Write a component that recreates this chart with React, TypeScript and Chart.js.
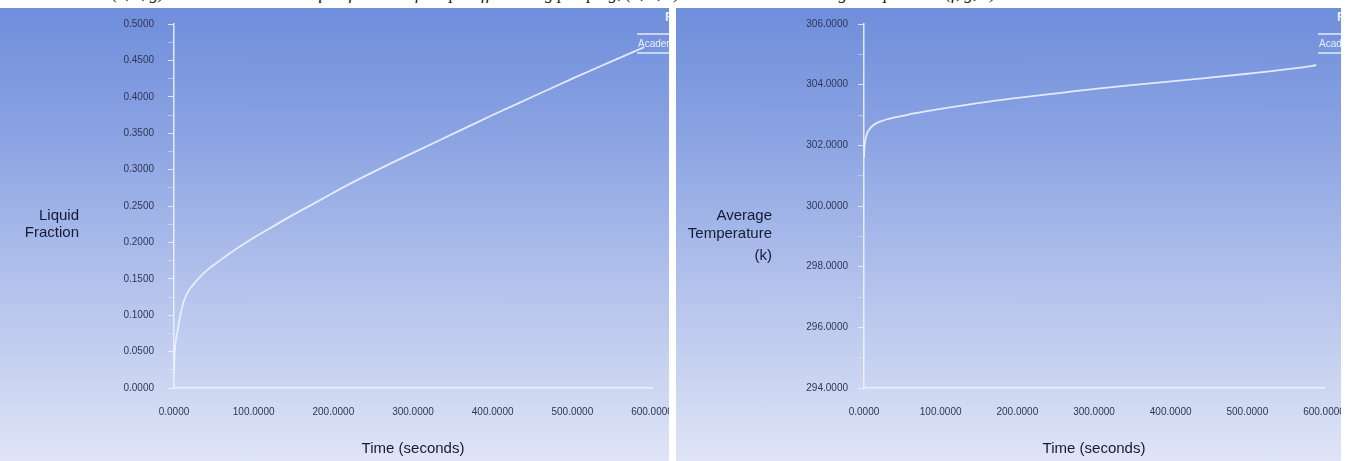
import React, { useEffect, useRef } from "react";
import { Chart, registerables } from "chart.js";

Chart.register(...registerables);

// Melting run: liquid fraction against flow time
const timeLiquid = [0, 0.5, 1, 2, 3, 5, 8, 12, 18, 25, 33, 45, 55, 70, 95, 120, 140, 180, 220, 260, 300, 350, 400, 450, 500, 550, 590];
const liquidFraction = [0.02, 0.04, 0.05, 0.062, 0.07, 0.082, 0.1, 0.118, 0.133, 0.143, 0.153, 0.165, 0.173, 0.185, 0.203, 0.219, 0.232, 0.256, 0.28, 0.302, 0.323, 0.349, 0.375, 0.4, 0.425, 0.449, 0.468];

// Same run: volume-averaged temperature (K) against flow time
const timeTemp = [0, 0.5, 1, 2, 3, 5, 8, 12, 17, 23, 30, 40, 50, 65, 80, 106, 140, 177, 220, 260, 308, 360, 438, 500, 569, 590];
const avgTemperature = [301.6, 301.9, 302.05, 302.2, 302.3, 302.45, 302.56, 302.66, 302.74, 302.8, 302.86, 302.92, 302.97, 303.05, 303.12, 303.23, 303.36, 303.49, 303.62, 303.74, 303.88, 304.01, 304.2, 304.36, 304.56, 304.64];

// Axis ranges and tick spacing
const timeRange = [0, 600];
const timeStep = 100;
const liquidRange = [0, 0.5];
const liquidMajor = 0.05;
const tempRange = [294, 306];
const tempMajor = 2;

const legendLabel = "Academic";
const legendHead = "Re";

const TICK_FONT = { family: "'Liberation Sans', Arial, sans-serif", size: 10 };
const TICK_COLOR = "#2f3656";
const TITLE_COLOR = "#161a33";
const LINE_COLOR = "rgba(236,241,253,0.92)";
const AXIS_COLOR = "rgba(238,242,253,0.9)";

type TitleSpec = { text: string; x: number; y: number; align: CanvasTextAlign };

type PanelProps = {
  left: number;
  width: number;
  axisWidth: number;
  xs: number[];
  ys: number[];
  yMin: number;
  yMax: number;
  yMajor: number;
  yPad: number;
  titles: TitleSpec[];
  legendX: number;
};

const PANEL_TOP = 8;
const PANEL_H = 453;
const PLOT_TOP = 16;
const PLOT_BOTTOM = 380;
const PLOT_RIGHT_PAD = 17;

function Panel(p: PanelProps) {
  const ref = useRef<HTMLCanvasElement | null>(null);

  useEffect(() => {
    if (!ref.current) return;
    const points = p.xs.map((x, i) => ({ x, y: p.ys[i] }));
    const minor = p.yMajor / 2;

    const overlay = {
      id: "panelText",
      afterDraw(chart: Chart) {
        const ctx = chart.ctx;
        ctx.save();
        ctx.fillStyle = TITLE_COLOR;
        ctx.font = "15px 'Liberation Sans', Arial, sans-serif";
        ctx.textBaseline = "alphabetic";
        for (const t of p.titles) {
          ctx.textAlign = t.align;
          ctx.fillText(t.text, t.x, t.y);
        }
        // legend box at the upper right, running off the panel edge
        const w = chart.width;
        ctx.strokeStyle = "rgba(240,244,255,0.9)";
        ctx.lineWidth = 1.5;
        ctx.beginPath();
        ctx.moveTo(p.legendX, 26);
        ctx.lineTo(w, 26);
        ctx.moveTo(p.legendX, 45);
        ctx.lineTo(w, 45);
        ctx.stroke();
        ctx.fillStyle = "rgba(242,246,255,0.92)";
        ctx.font = "10px 'Liberation Sans', Arial, sans-serif";
        ctx.textAlign = "left";
        ctx.textBaseline = "middle";
        ctx.fillText(legendLabel, p.legendX + 1, 36);
        ctx.font = "bold 13px 'Liberation Sans', Arial, sans-serif";
        ctx.textBaseline = "top";
        ctx.fillText(legendHead, w - 4, 3);
        ctx.restore();
      },
    };

    const chart = new Chart(ref.current, {
      type: "line",
      data: {
        datasets: [
          {
            data: points,
            borderColor: LINE_COLOR,
            borderWidth: 1.8,
            pointRadius: 0,
            cubicInterpolationMode: "monotone",
            fill: false,
          },
        ],
      },
      options: {
        animation: false,
        responsive: false,
        maintainAspectRatio: false,
        layout: { padding: { left: 0, right: PLOT_RIGHT_PAD, top: PLOT_TOP, bottom: 0 } },
        plugins: { legend: { display: false }, tooltip: { enabled: false } },
        scales: {
          x: {
            type: "linear",
            min: timeRange[0],
            max: timeRange[1],
            ticks: {
              stepSize: timeStep,
              color: TICK_COLOR,
              font: TICK_FONT,
              padding: 18,
              maxRotation: 0,
              callback: (v: any) => Number(v).toFixed(4),
            },
            grid: { drawOnChartArea: false, drawTicks: false },
            border: { display: true, color: AXIS_COLOR, width: 1.5 },
            afterFit: (s: any) => {
              s.height = PANEL_H - PLOT_BOTTOM;
              s.paddingLeft = 0;
              s.paddingRight = 0;
            },
          },
          y: {
            type: "linear",
            min: p.yMin,
            max: p.yMax,
            ticks: {
              stepSize: minor,
              color: TICK_COLOR,
              font: TICK_FONT,
              padding: p.yPad,
              callback: (v: any) => {
                const k = Math.round((Number(v) - p.yMin) / minor);
                return k % 2 === 0 ? Number(v).toFixed(4) : "";
              },
            },
            grid: {
              drawOnChartArea: false,
              drawTicks: true,
              tickLength: 6,
              tickColor: (c: any) => {
                const k = Math.round((Number(c.tick?.value) - p.yMin) / minor);
                return k % 2 === 0 ? "rgba(238,242,253,0.85)" : "rgba(238,242,253,0.45)";
              },
            },
            border: { display: true, color: AXIS_COLOR, width: 1.5 },
            afterFit: (s: any) => {
              s.width = p.axisWidth;
              s.paddingTop = 0;
              s.paddingBottom = 0;
            },
          },
        },
      },
      plugins: [overlay],
    } as any);
    return () => chart.destroy();
  }, []);

  return (
    <div
      style={{
        position: "absolute",
        left: p.left,
        top: PANEL_TOP,
        width: p.width,
        height: PANEL_H,
        background:
          "linear-gradient(to bottom, #6f8edb 0%, #8aa3e2 28%, #b2c1ec 60%, #dfe5f6 100%)",
      }}
    >
      <canvas ref={ref} width={p.width} height={PANEL_H} style={{ display: "block" }} />
    </div>
  );
}

const captionStyle: React.CSSProperties = {
  position: "absolute",
  top: -15,
  fontFamily: "'Liberation Serif', 'Times New Roman', serif",
  fontStyle: "italic",
  fontSize: 17,
  lineHeight: "17px",
  whiteSpace: "nowrap",
  color: "#111",
};

export default function App() {
  return (
    <div style={{ position: "fixed", left: 0, top: 0, width: 1347, height: 461, background: "#fff", overflow: "hidden" }}>
      <span style={{ ...captionStyle, left: 112 }}>(c, e, g)</span>
      <span style={{ ...captionStyle, left: 300 }}>Liquid fraction of the paraffin during pumping, (a, b, d)</span>
      <span style={{ ...captionStyle, left: 800 }}>average temperature (f, g, h)</span>
      <Panel
        left={0}
        width={669}
        axisWidth={174}
        xs={timeLiquid}
        ys={liquidFraction}
        yMin={liquidRange[0]}
        yMax={liquidRange[1]}
        yMajor={liquidMajor}
        yPad={14}
        legendX={637}
        titles={[
          { text: "Liquid", x: 79, y: 212, align: "right" },
          { text: "Fraction", x: 79, y: 229, align: "right" },
          { text: "Time (seconds)", x: 413, y: 445, align: "center" },
        ]}
      />
      <Panel
        left={676}
        width={665}
        axisWidth={188}
        xs={timeTemp}
        ys={avgTemperature}
        yMin={tempRange[0]}
        yMax={tempRange[1]}
        yMajor={tempMajor}
        yPad={10}
        legendX={642}
        titles={[
          { text: "Average", x: 96, y: 212, align: "right" },
          { text: "Temperature", x: 96, y: 230, align: "right" },
          { text: "(k)", x: 96, y: 252, align: "right" },
          { text: "Time (seconds)", x: 418, y: 445, align: "center" },
        ]}
      />
    </div>
  );
}
